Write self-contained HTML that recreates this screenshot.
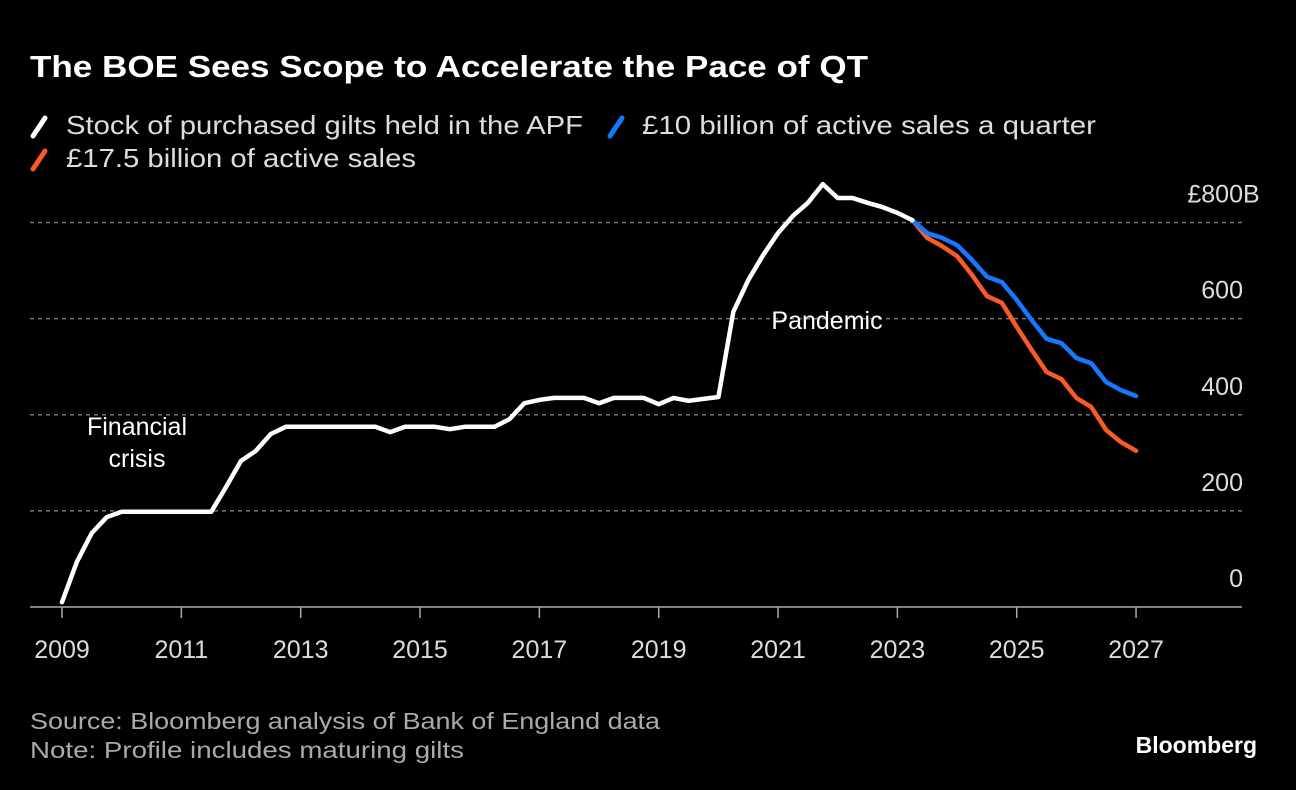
<!DOCTYPE html>
<html><head><meta charset="utf-8"><style>
body{margin:0;background:#000;}
svg{display:block;font-family:"Liberation Sans",sans-serif;}
</style></head><body>
<svg id="chart" width="1296" height="790" viewBox="0 0 1296 790">
<rect width="1296" height="790" fill="#000"/>
<text x="30" y="77" fill="#fff" font-size="31" font-weight="bold" textLength="838" lengthAdjust="spacingAndGlyphs">The BOE Sees Scope to Accelerate the Pace of QT</text>
<g font-size="26" fill="#ddd">
<g><line x1="33" y1="136" x2="45" y2="118" stroke="#fff" stroke-width="5" stroke-linecap="round"/><text x="66" y="134" textLength="517" lengthAdjust="spacingAndGlyphs">Stock of purchased gilts held in the APF</text></g>
<g><line x1="610" y1="136" x2="622" y2="118" stroke="#1479ff" stroke-width="5" stroke-linecap="round"/><text x="642" y="134" textLength="454" lengthAdjust="spacingAndGlyphs">£10 billion of active sales a quarter</text></g>
<g><line x1="33" y1="169" x2="45" y2="151" stroke="#f85a28" stroke-width="5" stroke-linecap="round"/><text x="66" y="167" textLength="350" lengthAdjust="spacingAndGlyphs">£17.5 billion of active sales</text></g>
</g>
<g id="grid"></g><g id="axes"></g><g id="lines"></g>
<text x="137" y="435" fill="#fff" font-size="25" text-anchor="middle">Financial</text>
<text x="137" y="467" fill="#fff" font-size="25" text-anchor="middle">crisis</text>
<text x="827" y="329" fill="#fff" font-size="25" text-anchor="middle">Pandemic</text>
<text x="30" y="729" fill="#aaa" font-size="23" textLength="630" lengthAdjust="spacingAndGlyphs">Source: Bloomberg analysis of Bank of England data</text>
<text x="30" y="758" fill="#aaa" font-size="23" textLength="434" lengthAdjust="spacingAndGlyphs">Note: Profile includes maturing gilts</text>
<text x="1257" y="753" fill="#fff" font-size="23" font-weight="bold" text-anchor="end">Bloomberg</text>
</svg>
<script>
const stockValues=[10,94,154,187,198,198,198,198,198,198,198,250,304,325,360,375,375,375,375,375,375,375,364,375,375,375,370,375,375,375,391,424,431,435,435,435,424,435,435,435,422,435,429,433,437,614,680,732,778,814,841,880,851,851,841,832,820,805];
const tenBnValues=[805,778,768,753,722,687,676,639,597,558,549,518,507,468,451,439];
const seventeenBnValues=[805,768,751,730,691,647,633,583,535,489,474,435,416,368,343,325];
const projStartIndex=57;
const yTicks=[0,200,400,600,800];
const xTickYears=[2009,2011,2013,2015,2017,2019,2021,2023,2025,2027];
const NS="http://www.w3.org/2000/svg";
const X=t=>62+(t-2009)*59.67;
const Xi=i=>X(2009+i*0.25);
const Y=v=>607-v*0.4806;
function mk(tag,attrs,parent){const e=document.createElementNS(NS,tag);for(const k in attrs)e.setAttribute(k,attrs[k]);document.getElementById(parent).appendChild(e);return e;}
yTicks.forEach(v=>{
  if(v>0){const g=mk('line',{x1:30,x2:1242,y1:Y(v),y2:Y(v),stroke:'#777','stroke-width':1.5,'stroke-dasharray':'4,4'},'grid');
  
  }
  const t=mk('text',{x:1243,y:Y(v)-20,fill:'#ddd','font-size':25,'text-anchor':'end'},'axes');
  t.textContent=v===800?'£800':String(v);
  
  
  if(v===800){const b=mk('text',{x:1243,y:Y(v)-20,fill:'#ddd','font-size':25},'axes');b.textContent='B';
  
  }
});
const base=mk('line',{x1:30,x2:1242,y1:607,y2:607,stroke:'#aaa','stroke-width':1.5},'axes');


xTickYears.forEach(yr=>{
  const tk=mk('line',{x1:X(yr),x2:X(yr),y1:607,y2:618,stroke:'#aaa','stroke-width':1.5},'axes');
  
  
  const t=mk('text',{x:X(yr),y:658,fill:'#ddd','font-size':25,'text-anchor':'middle'},'axes');
  t.textContent=yr;
  
  
});
function path(vals,start,color,name){
  const d=vals.map((v,i)=>(i?'L':'M')+Xi(start+i).toFixed(1)+','+Y(v).toFixed(1)).join(' ');
  const p=mk('path',{d:d,fill:'none',stroke:color,'stroke-width':4.5,'stroke-linejoin':'round','stroke-linecap':'round'},'lines');
  
  
}
path(seventeenBnValues,projStartIndex,'#f85a28','series-17bn-sales');
path(tenBnValues,projStartIndex,'#1479ff','series-10bn-sales');
path(stockValues,0,'#fff','series-stock');
</script>
</body></html>
